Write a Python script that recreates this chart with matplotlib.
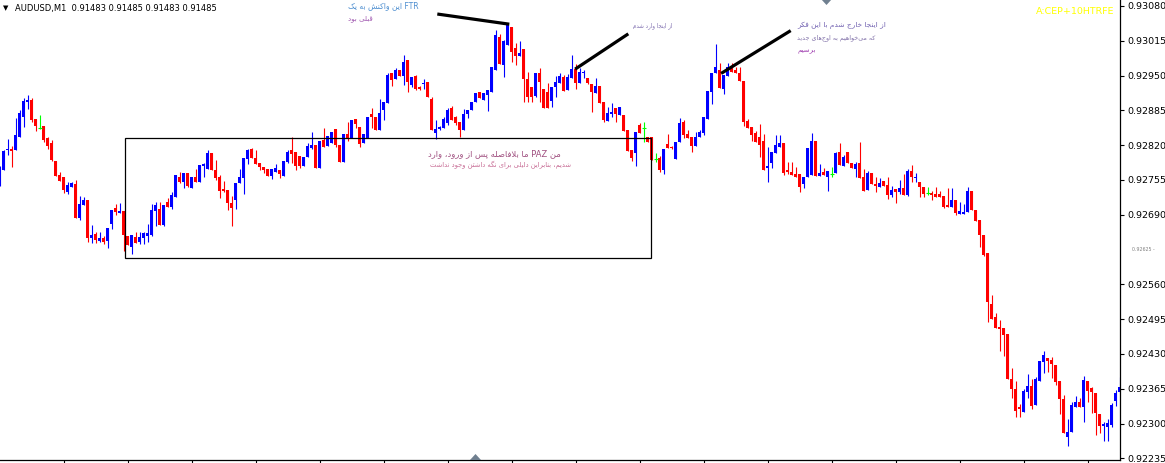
import numpy as np
import matplotlib
matplotlib.use("Agg")
import matplotlib.pyplot as plt
from matplotlib.patches import Rectangle, Polygon
import matplotlib.transforms as mtransforms

# ---------------- data (prices in points, 1 point = 0.00001) ----------------
bar_index = list(range(1, 282))

open_pts = [
    92749, 92774, 92811, 92813, 92811, 92835, 92873, 92901, 92904, 92869,
    92852, 92856, 92833, 92824, 92790, 92764, 92761, 92733, 92742, 92747,
    92684, 92708, 92718, 92647, 92654, 92641, 92647, 92641, 92673, 92703,
    92693, 92697, 92650, 92630, 92648, 92639, 92647, 92650, 92652, 92697,
    92701, 92671, 92714, 92704, 92723, 92761, 92751, 92768, 92740, 92761,
    92751, 92781, 92775, 92805, 92774, 92761, 92738, 92736, 92712, 92718,
    92749, 92759, 92794, 92813, 92796, 92787, 92779, 92775, 92762, 92770,
    92774, 92762, 92788, 92811, 92807, 92800, 92781, 92798, 92815, 92820,
    92777, 92830, 92818, 92824, 92850, 92820, 92788, 92841, 92833, 92869,
    92854, 92824, 92833, 92878, 92873, 92848, 92886, 92899, 92955, 92944,
    92960, 92949, 92979, 92932, 92949, 92929, 92934, 92938, 92906, 92843,
    92850, 92852, 92861, 92889, 92873, 92863, 92848, 92878, 92886, 92901,
    92919, 92904, 92914, 92919, 92960, 93022, 92970, 93007, 93041, 93001,
    92987, 92999, 92944, 92929, 92912, 92955, 92925, 92919, 92903, 92929,
    92936, 92947, 92923, 92945, 92962, 92936, 92955, 92945, 92934, 92917,
    92930, 92901, 92865, 92878, 92889, 92876, 92876, 92848, 92811, 92805,
    92858, 92852, 92835, 92835, 92794, 92796, 92774, 92822, 92817, 92794,
    92826, 92863, 92841, 92835, 92818, 92835, 92843, 92869, 92919, 92955,
    92960, 92925, 92949, 92964, 92960, 92955, 92940, 92865, 92854, 92843,
    92835, 92828, 92777, 92787, 92805, 92817, 92824, 92774, 92770, 92766,
    92766, 92747, 92761, 92764, 92828, 92762, 92770, 92761, 92766, 92768,
    92807, 92781, 92807, 92787, 92775, 92787, 92761, 92736, 92768, 92747,
    92742, 92753, 92746, 92727, 92738, 92733, 92740, 92727, 92772, 92759,
    92751, 92742, 92731, 92731, 92729, 92729, 92725, 92708, 92704, 92718,
    92691, 92691, 92695, 92734, 92699, 92680, 92652, 92619, 92523, 92499,
    92480, 92479, 92467, 92383, 92365, 92331, 92322, 92359, 92370, 92335,
    92380, 92415, 92422, 92419, 92409, 92380, 92346, 92275, 92284, 92331,
    92340, 92331, 92380, 92366, 92357, 92318, 92295, 92293, 92297, 92342,
    92359,
]
high_pts = [
    92781, 92811, 92832, 92818, 92871, 92886, 92908, 92914, 92908, 92869,
    92876, 92856, 92835, 92830, 92790, 92770, 92761, 92751, 92751, 92755,
    92725, 92723, 92718, 92671, 92658, 92658, 92650, 92665, 92699, 92710,
    92712, 92697, 92650, 92652, 92658, 92658, 92658, 92673, 92710, 92714,
    92714, 92708, 92722, 92733, 92764, 92770, 92768, 92768, 92761, 92775,
    92783, 92787, 92811, 92805, 92792, 92764, 92753, 92736, 92725, 92749,
    92775, 92796, 92813, 92815, 92811, 92787, 92779, 92775, 92775, 92785,
    92774, 92790, 92811, 92835, 92807, 92800, 92798, 92824, 92845, 92820,
    92828, 92852, 92837, 92845, 92850, 92820, 92841, 92863, 92867, 92869,
    92854, 92841, 92873, 92889, 92873, 92906, 92901, 92955, 92955, 92964,
    92960, 92988, 92979, 92947, 92951, 92930, 92944, 92938, 92910, 92867,
    92856, 92873, 92889, 92893, 92875, 92863, 92888, 92886, 92901, 92917,
    92919, 92917, 92923, 92966, 93035, 93028, 93016, 93048, 93041, 93011,
    93015, 92999, 92957, 92929, 92955, 92964, 92925, 92936, 92929, 92949,
    92955, 92951, 92953, 92988, 92971, 92964, 92960, 92945, 92934, 92945,
    92930, 92901, 92891, 92899, 92889, 92891, 92876, 92848, 92811, 92845,
    92861, 92863, 92835, 92835, 92805, 92800, 92813, 92841, 92818, 92826,
    92871, 92867, 92848, 92835, 92845, 92848, 92873, 92921, 92955, 93009,
    92973, 92951, 92973, 92973, 92966, 92966, 92940, 92869, 92854, 92846,
    92859, 92841, 92817, 92807, 92839, 92839, 92824, 92788, 92788, 92779,
    92766, 92761, 92815, 92843, 92828, 92785, 92777, 92772, 92779, 92807,
    92824, 92802, 92807, 92787, 92788, 92826, 92775, 92772, 92768, 92761,
    92759, 92753, 92761, 92744, 92738, 92755, 92766, 92775, 92783, 92768,
    92751, 92742, 92742, 92734, 92742, 92734, 92725, 92740, 92740, 92718,
    92714, 92710, 92742, 92734, 92699, 92680, 92652, 92619, 92540, 92507,
    92494, 92479, 92467, 92404, 92380, 92336, 92365, 92393, 92383, 92387,
    92417, 92436, 92422, 92424, 92409, 92380, 92353, 92308, 92340, 92352,
    92348, 92389, 92380, 92368, 92357, 92318, 92303, 92308, 92338, 92363,
    92387,
]
low_pts = [
    92744, 92774, 92802, 92779, 92811, 92835, 92854, 92888, 92863, 92847,
    92850, 92826, 92813, 92790, 92762, 92753, 92731, 92729, 92742, 92684,
    92680, 92708, 92639, 92637, 92637, 92639, 92636, 92628, 92663, 92690,
    92693, 92622, 92634, 92617, 92637, 92636, 92636, 92639, 92650, 92669,
    92671, 92669, 92704, 92701, 92723, 92749, 92740, 92742, 92740, 92751,
    92751, 92761, 92775, 92774, 92755, 92721, 92733, 92699, 92669, 92701,
    92749, 92729, 92785, 92796, 92785, 92774, 92768, 92762, 92757, 92770,
    92759, 92762, 92787, 92787, 92774, 92777, 92781, 92798, 92813, 92777,
    92777, 92817, 92818, 92824, 92817, 92788, 92788, 92828, 92833, 92852,
    92817, 92824, 92833, 92852, 92848, 92848, 92867, 92899, 92930, 92944,
    92949, 92932, 92919, 92929, 92923, 92923, 92925, 92910, 92848, 92831,
    92848, 92852, 92858, 92867, 92858, 92835, 92848, 92871, 92886, 92901,
    92908, 92904, 92884, 92919, 92960, 92972, 92947, 93007, 92975, 92970,
    92987, 92901, 92901, 92901, 92910, 92901, 92889, 92889, 92891, 92910,
    92936, 92921, 92923, 92945, 92925, 92936, 92945, 92934, 92882, 92917,
    92899, 92863, 92865, 92873, 92863, 92876, 92847, 92809, 92790, 92781,
    92843, 92826, 92826, 92792, 92788, 92770, 92766, 92815, 92813, 92794,
    92826, 92833, 92833, 92807, 92818, 92835, 92839, 92869, 92897, 92955,
    92927, 92915, 92949, 92957, 92955, 92940, 92856, 92852, 92828, 92826,
    92798, 92774, 92751, 92777, 92805, 92817, 92764, 92766, 92764, 92761,
    92733, 92740, 92761, 92764, 92762, 92762, 92764, 92734, 92761, 92768,
    92783, 92781, 92787, 92777, 92761, 92759, 92734, 92736, 92747, 92733,
    92742, 92744, 92719, 92723, 92712, 92729, 92727, 92725, 92751, 92751,
    92723, 92723, 92727, 92718, 92723, 92723, 92703, 92704, 92704, 92690,
    92691, 92691, 92695, 92699, 92678, 92630, 92613, 92490, 92495, 92478,
    92436, 92426, 92383, 92348, 92312, 92312, 92322, 92348, 92327, 92335,
    92380, 92394, 92396, 92385, 92372, 92318, 92282, 92258, 92284, 92331,
    92331, 92303, 92340, 92320, 92279, 92282, 92267, 92267, 92293, 92333,
    92359,
]
close_pts = [
    92777, 92809, 92813, 92809, 92839, 92880, 92903, 92904, 92867, 92856,
    92852, 92830, 92818, 92792, 92762, 92753, 92736, 92746, 92749, 92684,
    92710, 92718, 92647, 92652, 92643, 92647, 92639, 92665, 92699, 92695,
    92697, 92652, 92634, 92652, 92637, 92648, 92656, 92656, 92699, 92708,
    92671, 92708, 92704, 92727, 92764, 92751, 92768, 92744, 92761, 92751,
    92783, 92785, 92805, 92774, 92759, 92734, 92734, 92712, 92703, 92749,
    92761, 92796, 92811, 92796, 92785, 92779, 92774, 92762, 92775, 92777,
    92766, 92790, 92807, 92803, 92781, 92781, 92798, 92818, 92820, 92777,
    92828, 92817, 92837, 92845, 92820, 92788, 92841, 92833, 92867, 92859,
    92822, 92841, 92873, 92873, 92848, 92880, 92901, 92951, 92942, 92960,
    92949, 92975, 92938, 92947, 92925, 92925, 92936, 92910, 92848, 92850,
    92854, 92869, 92886, 92867, 92861, 92848, 92878, 92886, 92901, 92917,
    92908, 92917, 92923, 92966, 93026, 92972, 93015, 93044, 92994, 92987,
    92992, 92944, 92910, 92910, 92955, 92938, 92889, 92889, 92929, 92938,
    92949, 92921, 92947, 92962, 92936, 92957, 92957, 92936, 92919, 92930,
    92899, 92867, 92880, 92882, 92878, 92891, 92847, 92809, 92796, 92845,
    92843, 92852, 92826, 92792, 92794, 92774, 92813, 92815, 92815, 92826,
    92861, 92839, 92833, 92818, 92835, 92845, 92873, 92921, 92955, 92966,
    92927, 92951, 92966, 92957, 92955, 92940, 92863, 92852, 92839, 92826,
    92820, 92774, 92781, 92807, 92820, 92824, 92768, 92770, 92764, 92761,
    92742, 92761, 92815, 92828, 92762, 92768, 92764, 92772, 92766, 92805,
    92783, 92798, 92787, 92777, 92785, 92759, 92734, 92768, 92747, 92744,
    92749, 92744, 92727, 92736, 92733, 92740, 92727, 92772, 92761, 92761,
    92742, 92729, 92731, 92727, 92723, 92723, 92704, 92704, 92718, 92693,
    92697, 92695, 92734, 92699, 92678, 92652, 92615, 92527, 92495, 92478,
    92477, 92466, 92383, 92365, 92324, 92327, 92361, 92370, 92333, 92383,
    92417, 92428, 92417, 92411, 92378, 92346, 92282, 92284, 92335, 92340,
    92331, 92381, 92361, 92359, 92320, 92295, 92299, 92301, 92335, 92357,
    92368,
]

price_ticks = [0.93080, 0.93015, 0.92950, 0.92885, 0.92820, 0.92755, 0.92690,
               0.92560, 0.92495, 0.92430, 0.92365, 0.92300, 0.92235]
time_tick_bars = [17, 33, 49, 65, 81, 97, 113, 129, 145, 161, 177, 193, 209,
                  225, 241, 257, 273]
hline_price = 0.92625

title_text = "AUDUSD,M1  0.91483 0.91485 0.91483 0.91485"
indicator_text = "A:CEP+10HTRFE"

# rectangle (bar range, price range) and trend lines (bar, price)
rect_bars = (32.45, 163.8)
rect_prices = (0.92609, 0.92833)
trend_lines = [
    ((110.45, 0.93065), (128.45, 0.93046)),
    ((144.9, 0.92962), (158.2, 0.93028)),
    ((181.4, 0.92954), (198.8, 0.93034)),
]

# notes: text, bar, price, size, colour
notes = [
    ("این واکنش به یک FTR", 88.1, 0.93080, 5.5, "#4f8fd0"),
    ("قبلی بود", 88.1, 0.93056, 5.0, "#a058b0"),
    ("از اینجا وارد شدم", 159.4, 0.93044, 4.0, "#8070b0"),
    ("از اینجا خارج شدم با این فکر", 200.4, 0.93044, 5.3, "#7060b0"),
    ("که می\u200cخواهیم به اوج\u200cهای جدید", 200.4, 0.93020, 4.6, "#8070a8"),
    ("برسیم", 200.4, 0.92996, 5.0, "#a040b0"),
    ("ما بلافاصله پس از ورود، وارد PAZ من", 108.1, 0.92805, 6.0, "#a05080"),
    ("شدیم، بنابراین دلیلی برای نگه داشتن وجود نداشت", 108.6, 0.92783, 4.9, "#c86e96"),
]

# ---------------- Persian text shaping (presentation forms, visual order) ----------------
_AR = {
    '\u0627': ('\ufe8d', '\ufe8e', None, None),
    '\u0628': ('\ufe8f', '\ufe90', '\ufe91', '\ufe92'),
    '\u067e': ('\ufb56', '\ufb57', '\ufb58', '\ufb59'),
    '\u062a': ('\ufe95', '\ufe96', '\ufe97', '\ufe98'),
    '\u062c': ('\ufe9d', '\ufe9e', '\ufe9f', '\ufea0'),
    '\u062e': ('\ufea5', '\ufea6', '\ufea7', '\ufea8'),
    '\u062f': ('\ufea9', '\ufeaa', None, None),
    '\u0631': ('\ufead', '\ufeae', None, None),
    '\u0632': ('\ufeaf', '\ufeb0', None, None),
    '\u0633': ('\ufeb1', '\ufeb2', '\ufeb3', '\ufeb4'),
    '\u0634': ('\ufeb5', '\ufeb6', '\ufeb7', '\ufeb8'),
    '\u0635': ('\ufeb9', '\ufeba', '\ufebb', '\ufebc'),
    '\u0641': ('\ufed1', '\ufed2', '\ufed3', '\ufed4'),
    '\u0642': ('\ufed5', '\ufed6', '\ufed7', '\ufed8'),
    '\u06a9': ('\ufb8e', '\ufb8f', '\ufb90', '\ufb91'),
    '\u0643': ('\ufb8e', '\ufb8f', '\ufb90', '\ufb91'),
    '\u06af': ('\ufb92', '\ufb93', '\ufb94', '\ufb95'),
    '\u0644': ('\ufedd', '\ufede', '\ufedf', '\ufee0'),
    '\u0645': ('\ufee1', '\ufee2', '\ufee3', '\ufee4'),
    '\u0646': ('\ufee5', '\ufee6', '\ufee7', '\ufee8'),
    '\u0647': ('\ufee9', '\ufeea', '\ufeeb', '\ufeec'),
    '\u0648': ('\ufeed', '\ufeee', None, None),
    '\u06cc': ('\ufbfc', '\ufbfd', '\ufbfe', '\ufbff'),
    '\u064a': ('\ufbfc', '\ufbfd', '\ufbfe', '\ufbff'),
}


def _joins_next(ch):
    return ch in _AR and _AR[ch][2] is not None


def shape_run(text):
    chars = list(text)
    out = []
    i, n = 0, len(chars)
    while i < n:
        ch = chars[i]
        if ch not in _AR:
            if ch != '\u200c':
                out.append(ch)
            i += 1
            continue
        prev = chars[i - 1] if i > 0 else ''
        jp = _joins_next(prev)
        if ch == '\u0644' and i + 1 < n and chars[i + 1] == '\u0627':
            out.append('\ufefc' if jp else '\ufefb')
            i += 2
            continue
        nxt = chars[i + 1] if i + 1 < n else ''
        jn = _AR[ch][2] is not None and nxt in _AR
        iso, fin, ini, med = _AR[ch]
        out.append(med if (jp and jn) else fin if jp else ini if jn else iso)
        i += 1
    return ''.join(reversed(out))


def visual(s):
    groups = []
    for w in s.split(' '):
        ar = any('\u0600' <= c <= '\u06ff' for c in w)
        if groups and groups[-1][0] == ar:
            groups[-1][1].append(w)
        else:
            groups.append((ar, [w]))
    parts = [shape_run(' '.join(ws)) if ar else ' '.join(ws) for ar, ws in groups]
    return ' '.join(parts)


# ---------------- figure ----------------
W, H = 1165, 463
fig = plt.figure(figsize=(W / 100, H / 100), dpi=100)
fig.patch.set_facecolor('white')
ax = fig.add_axes([0, 3 / H, 1120 / W, 460 / H])
ax.set_facecolor('white')

x = np.array(bar_index, dtype=float)
o = np.array(open_pts) / 1e5
h = np.array(high_pts) / 1e5
l = np.array(low_pts) / 1e5
c = np.array(close_pts) / 1e5

up = c > o
dn = c < o
dj = c == o
cols = np.where(up, '#0000ff', np.where(dn, '#ff0000', '#00ff00'))

ax.vlines(x, l, h, colors=cols, linewidth=0.8)
nb = ~dj
body_bottom = np.minimum(o, c)
body_h = np.maximum(np.abs(c - o), 0.000016)
ax.bar(x[nb], body_h[nb], bottom=body_bottom[nb], width=0.75,
       color=cols[nb], linewidth=0)
ax.hlines(o[dj], x[dj] - 0.5, x[dj] + 0.5, colors='#00ff00', linewidth=0.8)

# rectangle
ax.add_patch(Rectangle((rect_bars[0], rect_prices[0]), rect_bars[1] - rect_bars[0],
                       rect_prices[1] - rect_prices[0], fill=False,
                       edgecolor='black', linewidth=0.9, zorder=5))
# trend lines
for (x0, y0), (x1, y1) in trend_lines:
    ax.plot([x0, x1], [y0, y1], color='black', linewidth=2.3,
            solid_capstyle='butt', zorder=6)

# notes
for txt, bx, py, fs, col in notes:
    ax.text(bx, py, visual(txt), fontsize=fs, color=col, ha='left', va='center',
            family='DejaVu Sans', zorder=7, clip_on=False)

ax.set_xlim(1.125, 281.125)
ax.set_ylim(0.922319, 0.930912)

for s in ['top', 'left']:
    ax.spines[s].set_visible(False)
for s in ['right', 'bottom']:
    ax.spines[s].set_color('black')
    ax.spines[s].set_linewidth(0.9)

ax.yaxis.tick_right()
ax.set_yticks(price_ticks)
ax.set_yticklabels(["%.5f" % v for v in price_ticks])
ax.tick_params(axis='y', direction='out', length=3, width=0.8, pad=2,
               labelsize=6.8, colors='black')
ax.set_xticks(time_tick_bars)
ax.set_xticklabels([])
ax.tick_params(axis='x', direction='out', length=3, width=0.8)

# small horizontal line price label
trans = mtransforms.blended_transform_factory(ax.transAxes, ax.transData)
ax.text(1.0107, hline_price, "%.5f -" % hline_price, transform=trans,
        fontsize=3.4, color='#808080', ha='left', va='center', clip_on=False)

# header texts
fig.text(3 / W, 1 - 8 / H, "\u25bc", fontsize=5, color='black', ha='left', va='center')
fig.text(15 / W, 1 - 8 / H, title_text, fontsize=6.05, color='black',
         ha='left', va='center')
fig.text(1114 / W, 1 - 12 / H, indicator_text, fontsize=6.8, color='#ffff00',
         ha='right', va='center')

# chart shift markers
def px(xp, yp):
    return (xp / W, 1 - yp / H)

fig.patches.append(Polygon([px(821, -1), px(832, -1), px(826.5, 5)], closed=True,
                           transform=fig.transFigure, facecolor='#708090',
                           edgecolor='none', figure=fig))
fig.patches.append(Polygon([px(470, 460), px(481, 460), px(475.5, 454)], closed=True,
                           transform=fig.transFigure, facecolor='#708090',
                           edgecolor='none', figure=fig))

fig.savefig('out.png', dpi=100, facecolor='white')
